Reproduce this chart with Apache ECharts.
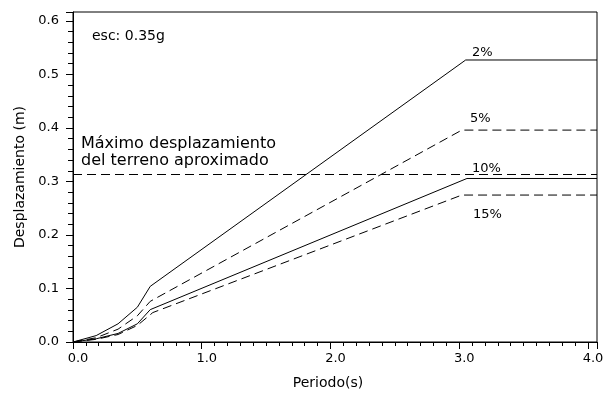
<!DOCTYPE html>
<html>
<head>
<meta charset="utf-8">
<script src="https://cdn.jsdelivr.net/npm/echarts@6/dist/echarts.min.js"></script>
<style>html,body{margin:0;padding:0;background:#fff}#c{width:608px;height:395px}</style>
</head>
<body>
<div id="c"></div>
<script>
// ---- data ----
const xTickLabels = ['0.0','1.0','2.0','3.0','4.0'];
const yTickLabels = ['0.0','0.1','0.2','0.3','0.4','0.5','0.6'];
const seriesNames = ['2%','5%','10%','15%'];
const s2  = [[0,0],[0.18,0.012],[0.35,0.034],[0.5,0.065],[0.6,0.104],[3.05,0.527],[4.07,0.527]];
const s5  = [[0,0],[0.18,0.008],[0.35,0.024],[0.5,0.049],[0.6,0.076],[3.02,0.396],[4.07,0.396]];
const s10 = [[0,0],[0.18,0.006],[0.35,0.016],[0.5,0.034],[0.6,0.0605],[3.06,0.3056],[4.07,0.3056]];
const s15 = [[0,0],[0.18,0.005],[0.35,0.014],[0.5,0.031],[0.62,0.055],[3.02,0.2746],[4.07,0.2746]];
const maxGround = [[0,0.313],[4.07,0.313]];
const xMax = 4.07, yMax = 0.6167;

const FONT = 'DejaVu Sans';
const chart = echarts.init(document.getElementById('c'), null, {renderer:'canvas'});
const dash = [9,5];
function line(data, type, name){
  return {type:'line', name:name, data:data, showSymbol:false, symbol:'none',
    xAxisIndex:0, yAxisIndex:0,
    lineStyle:{color:'#000', width:1, type:type}, silent:true, animation:false};
}
function isMajor(v, step){ const r = v/step; return Math.abs(r - Math.round(r)) < 1e-6; }

chart.setOption({
  backgroundColor:'#fff',
  animation:false,
  grid:{left:73, top:12, right:11, bottom:50, show:true, borderColor:'#000', borderWidth:1, backgroundColor:'transparent'},
  xAxis:[
    {type:'value', min:0, max:xMax, interval:1, position:'bottom',
     axisLine:{show:true, onZero:false, lineStyle:{color:'#000', width:1}},
     axisTick:{show:true, inside:false, length:7, lineStyle:{color:'#000'}},
     axisLabel:{show:true, color:'#000', fontFamily:FONT, fontSize:13, margin:10, padding:[0,0,0,10],
       formatter:v=> isMajor(v,1) ? xTickLabels[Math.round(v)] : ''},
     splitLine:{show:false},
     name:'Periodo(s)', nameLocation:'middle', nameGap:34,
     nameTextStyle:{color:'#000', fontFamily:FONT, fontSize:14, padding:[0,14,0,0]}},
    {type:'value', min:0, max:xMax, interval:0.1, position:'bottom', offset:0,
     axisLine:{show:false}, axisTick:{show:true, length:4, lineStyle:{color:'#000'}},
     axisLabel:{show:false}, splitLine:{show:false}}
  ],
  yAxis:[
    {type:'value', min:0, max:yMax, interval:0.1, position:'left',
     axisLine:{show:true, onZero:false, lineStyle:{color:'#000', width:1}},
     axisTick:{show:true, inside:false, length:7, lineStyle:{color:'#000'}},
     axisLabel:{show:true, color:'#000', fontFamily:FONT, fontSize:13, margin:14,
       formatter:v=> isMajor(v,0.1) ? yTickLabels[Math.round(v*10)] : ''},
     splitLine:{show:false},
     name:'Desplazamiento (m)', nameLocation:'middle', nameGap:40,
     nameTextStyle:{color:'#000', fontFamily:FONT, fontSize:14}},
    {type:'value', min:0, max:yMax, interval:0.02, position:'left', offset:0,
     axisLine:{show:false}, axisTick:{show:true, length:5, lineStyle:{color:'#000'}},
     axisLabel:{show:false}, splitLine:{show:false}}
  ],
  series:[
    line(s2,'solid',seriesNames[0]),
    line(s5,dash,seriesNames[1]),
    line(s10,'solid',seriesNames[2]),
    line(s15,dash,seriesNames[3]),
    line(maxGround,dash,'Máximo desplazamiento del terreno aproximado')
  ],
  graphic:[
    {type:'text', left:92, top:29, style:{text:'esc: 0.35g', font:'14px "DejaVu Sans"', fill:'#000'}},
    {type:'text', left:81, top:136, style:{text:'Máximo desplazamiento', font:'16px "DejaVu Sans"', fill:'#000'}},
    {type:'text', left:81, top:153, style:{text:'del terreno aproximado', font:'16px "DejaVu Sans"', fill:'#000'}},
    {type:'text', left:472, top:46, style:{text:seriesNames[0], font:'13px "DejaVu Sans"', fill:'#000'}},
    {type:'text', left:470, top:112, style:{text:seriesNames[1], font:'13px "DejaVu Sans"', fill:'#000'}},
    {type:'text', left:472, top:162, style:{text:seriesNames[2], font:'13px "DejaVu Sans"', fill:'#000'}},
    {type:'text', left:473, top:208, style:{text:seriesNames[3], font:'13px "DejaVu Sans"', fill:'#000'}}
  ]
});
</script>
</body>
</html>
